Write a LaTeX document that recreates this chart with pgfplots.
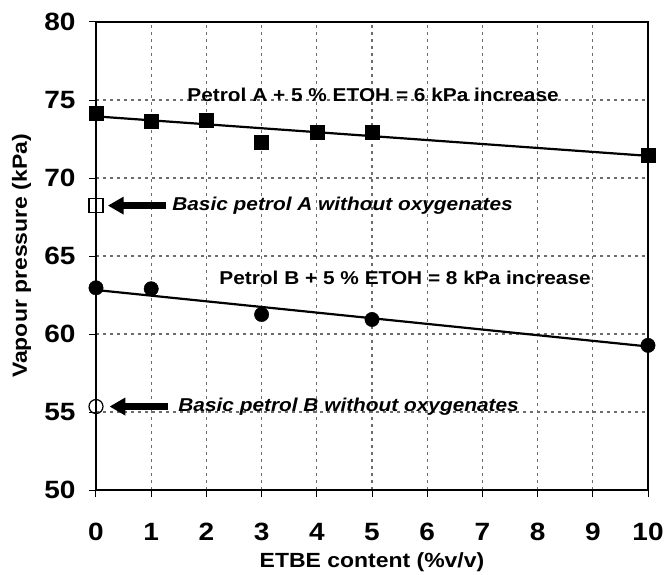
\documentclass[border=0pt]{standalone}
\usepackage{pgfplots}
\pgfplotsset{compat=1.18}
\usepackage{fontspec}
\setmainfont{Liberation Sans}[FakeStretch=1.12]
\begin{document}
\begin{tikzpicture}
\useasboundingbox (-96pt,-84pt) rectangle (570pt,490pt);
\begin{axis}[
  at={(0,0)}, anchor=south west,
  scale only axis, width=552pt, height=468pt,
  xmin=0, xmax=10, ymin=50, ymax=80,
  xtick={0,1,...,10}, ytick={50,55,...,80},
  axis line style={line width=2.2pt},
  tick align=outside, xtick pos=left, ytick pos=left,
  major tick length=7pt,
  tick style={line width=1pt, black},
  grid=major,
  major grid style={line width=1.2pt, gray!85!black, dash pattern=on 3pt off 4pt},
  /pgf/number format/assume math mode=true,
  ticklabel style={font=\fontsize{25}{28}\selectfont\bfseries},
  xticklabel style={yshift=-23pt},
  yticklabel style={xshift=-10pt},
  label style={font=\fontsize{20.5}{23}\selectfont\bfseries},
  xlabel={ETBE content (\%v/v)},
  ylabel={Vapour pressure (kPa)},
  xlabel style={at={(axis description cs:0.5,0)}, yshift=-72pt, anchor=center},
  ylabel style={at={(axis description cs:-0.135,0.5)}, anchor=center},
  clip=false,
]
% trend lines
\addplot[black, line width=2.2pt] coordinates {(0,73.95) (10,71.42)};
\addplot[black, line width=2.2pt] coordinates {(0,62.82) (10,59.2)};
% Petrol A
\addplot[only marks, mark=square*, mark size=7pt, black] coordinates {
(0,74.16) (1,73.67) (2,73.73) (3,72.3) (4,72.93) (5,72.93) (10,71.45)};
% Petrol B
\addplot[only marks, mark=*, mark size=7.2pt, black] coordinates {
(0,62.96) (1,62.9) (3,61.25) (5,60.93) (10,59.27)};
% basic petrols
\addplot[only marks, mark=square, mark size=7pt, black, mark options={line width=1.2pt, fill=white}] coordinates {(0,68.23)};
\addplot[only marks, mark=o, mark size=7pt, black, mark options={line width=1.2pt, fill=white}] coordinates {(0,55.35)};
% arrows
\draw[line width=7pt] (axis cs:1.27,68.23) -- (axis cs:0.45,68.23);
\fill (axis cs:0.22,68.23) -- ([yshift=9pt]axis cs:0.5,68.23) -- ([yshift=-9pt]axis cs:0.5,68.23) -- cycle;
\draw[line width=7pt] (axis cs:1.30,55.35) -- (axis cs:0.48,55.35);
\fill (axis cs:0.25,55.35) -- ([yshift=9pt]axis cs:0.53,55.35) -- ([yshift=-9pt]axis cs:0.53,55.35) -- cycle;
\node[anchor=west, inner sep=0pt, font=\fontsize{18.6}{21}\selectfont\bfseries\itshape] at (axis cs:1.38,68.23) {Basic petrol A without oxygenates};
\node[anchor=west, inner sep=0pt, font=\fontsize{18.6}{21}\selectfont\bfseries\itshape] at (axis cs:1.49,55.35) {Basic petrol B without oxygenates};
\node[inner sep=0pt, font=\fontsize{18.6}{21}\selectfont\bfseries] at (axis cs:5.02,75.3) {Petrol A + 5 \% ETOH = 6 kPa increase};
\node[inner sep=0pt, font=\fontsize{18.6}{21}\selectfont\bfseries] at (axis cs:5.6,63.6) {Petrol B + 5 \% ETOH = 8 kPa increase};
\end{axis}
\end{tikzpicture}
\end{document}
